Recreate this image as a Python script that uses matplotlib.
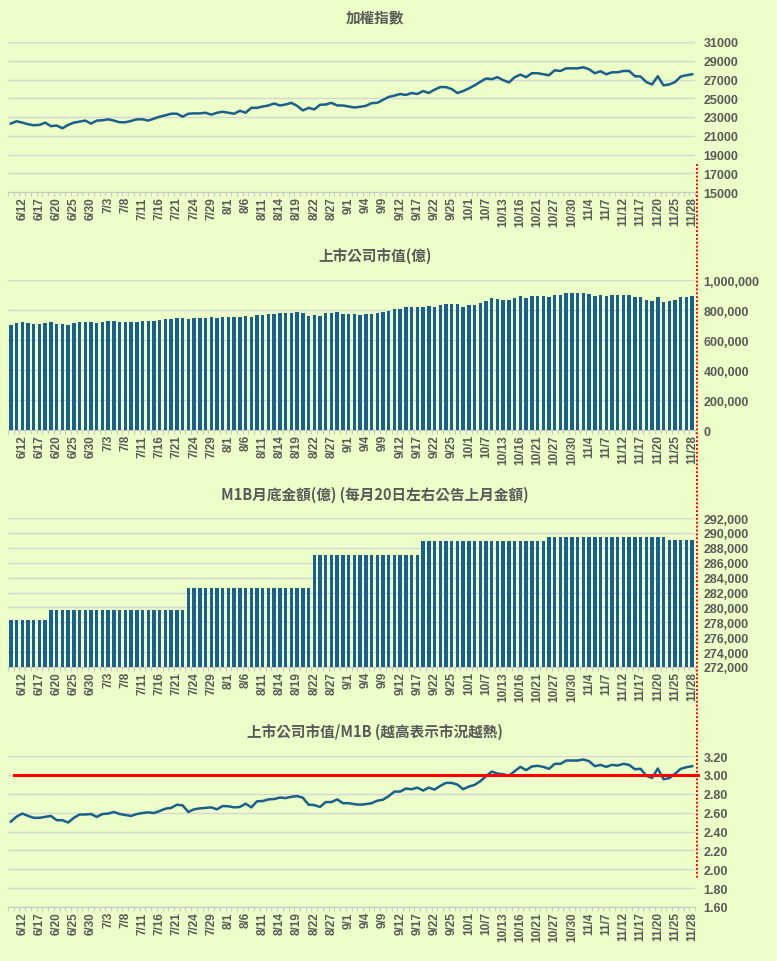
"""
Four stacked panels: TAIEX, listed market cap, M1B and market cap / M1B
"""
import matplotlib
matplotlib.use("Agg")
import matplotlib.pyplot as plt
from matplotlib.lines import Line2D
import pandas as pd

# trading days (TWSE 2025, holidays removed)
holidays = ["2025-09-29", "2025-10-06", "2025-10-10", "2025-10-24"]
dates = pd.bdate_range("2025-06-10", "2025-11-28", freq="C", holidays=holidays)
date_labels = [f"{d.month}/{d.day}" for d in dates]

taiex = [
    22300, 22545, 22400, 22230, 22120, 22155, 22400, 22020, 22090, 21800,
    22155, 22400, 22510, 22615, 22300, 22615, 22650, 22750, 22615, 22440,
    22440, 22580, 22750, 22750, 22615, 22825, 23035, 23175, 23350, 23350,
    23035, 23350, 23385, 23385, 23455, 23245, 23455, 23560, 23455, 23350,
    23665, 23455, 23980, 23980, 24120, 24230, 24440, 24230, 24335, 24510,
    24190, 23700, 23980, 23810, 24300, 24335, 24510, 24230, 24230, 24120,
    24017, 24087, 24190, 24475, 24510, 24825, 25140, 25280, 25455, 25350,
    25560, 25455, 25770, 25560, 25910, 26190, 26190, 25980, 25560, 25770,
    26050, 26370, 26755, 27105, 27035, 27245, 26930, 26685, 27245, 27525,
    27245, 27670, 27670, 27560, 27455, 27980, 27910, 28190, 28190, 28190,
    28300, 28090, 27670, 27880, 27560, 27770, 27770, 27910, 27910, 27350,
    27315, 26720, 26475, 27350, 26370, 26475, 26720, 27315, 27455, 27560,
]

market_cap = [
    697000, 712000, 721000, 714000, 708000, 708000, 711000, 717000, 705000, 705000,
    698000, 712000, 721000, 721000, 723000, 714000, 723000, 724000, 729000, 723000,
    720000, 717000, 723000, 726000, 728000, 726000, 732000, 739000, 741000, 750000,
    748000, 737000, 745000, 747000, 749000, 751000, 745000, 755000, 754000, 751000,
    752000, 762000, 751000, 769000, 770000, 774000, 775000, 780000, 778000, 782000,
    784000, 779000, 758000, 769000, 763000, 778000, 778000, 786000, 775000, 775000,
    772000, 770000, 772000, 775000, 782000, 786000, 796000, 810000, 810000, 819000,
    817000, 822000, 819000, 828000, 822000, 833000, 842000, 842000, 837000, 823000,
    831000, 836000, 847000, 863000, 877000, 871000, 869000, 864000, 878000, 891000,
    881000, 892000, 894000, 891000, 887000, 902000, 902000, 912000, 912000, 912000,
    915000, 910000, 895000, 899000, 893000, 899000, 897000, 902000, 899000, 886000,
    887000, 865000, 859000, 888000, 855000, 857000, 870000, 885000, 890000, 894000,
]

# M1B month-end balance, updated when the new month is published
m1b = ([278300] * 7 + [279600] * 24 + [282600] * 22 + [287000] * 19
       + [288900] * 22 + [289400] * 21 + [289000] * 5)

ratio = [
    2.505, 2.558, 2.590, 2.565, 2.545, 2.545, 2.555, 2.565, 2.520, 2.520,
    2.495, 2.545, 2.580, 2.580, 2.585, 2.555, 2.585, 2.590, 2.607, 2.585,
    2.575, 2.565, 2.585, 2.596, 2.603, 2.596, 2.617, 2.642, 2.650, 2.684,
    2.677, 2.607, 2.635, 2.645, 2.650, 2.656, 2.635, 2.670, 2.667, 2.656,
    2.660, 2.695, 2.656, 2.720, 2.723, 2.740, 2.744, 2.760, 2.754, 2.768,
    2.775, 2.758, 2.684, 2.680, 2.660, 2.712, 2.712, 2.740, 2.700, 2.700,
    2.690, 2.684, 2.690, 2.700, 2.726, 2.737, 2.775, 2.823, 2.823, 2.855,
    2.848, 2.865, 2.834, 2.865, 2.844, 2.883, 2.915, 2.915, 2.897, 2.848,
    2.876, 2.894, 2.933, 2.986, 3.035, 3.014, 3.007, 2.990, 3.039, 3.085,
    3.050, 3.089, 3.096, 3.085, 3.064, 3.117, 3.117, 3.152, 3.152, 3.152,
    3.163, 3.145, 3.092, 3.106, 3.085, 3.106, 3.099, 3.117, 3.106, 3.060,
    3.064, 2.990, 2.968, 3.067, 2.954, 2.965, 3.011, 3.064, 3.081, 3.092,
]
hot_level = 3.00

titles = ["加權指數", "上市公司市值(億)",
          "M1B月底金額(億) (每月20日左右公告上月金額)",
          "上市公司市值/M1B (越高表示市況越熱)"]

BG = "#ECFFC8"
BLUE = "#1B5F8C"
GREY_TXT = "#595959"
GRID = "#D6D6D6"
CJK = ["Noto Sans CJK TC", "DejaVu Sans"]

W, H = 777, 962
fig = plt.figure(figsize=(W / 100, H / 100), dpi=100, facecolor=BG)

# panel boxes in pixels: (top, bottom)
boxes = [(43, 193), (281, 431), (519, 668), (757, 908)]
title_y = [17, 256, 495, 732]
left_px, right_px = 8, 695

x = list(range(len(dates)))


def style_axis(ax, ymin, ymax, step, fmt):
    ax.set_facecolor(BG)
    ax.set_xlim(-0.5, len(x) - 0.5)
    ax.set_ylim(ymin, ymax)
    ticks = []
    v = ymin
    while v <= ymax + step * 0.01:
        ticks.append(v)
        v += step
    ax.set_yticks(ticks)
    ax.set_yticklabels([fmt(t) for t in ticks])
    ax.yaxis.tick_right()
    ax.tick_params(axis="y", length=0, pad=6, labelsize=9, labelcolor=GREY_TXT)
    for lab in ax.get_yticklabels():
        lab.set_fontweight("bold")
        lab.set_family("Liberation Sans")
    ax.grid(axis="y", color=GRID, linewidth=1.0, zorder=0)
    ax.set_axisbelow(True)
    for s in ["top", "left", "right"]:
        ax.spines[s].set_visible(False)
    ax.spines["bottom"].set_color("#C8C8C8")
    ax.set_xticks(range(2, len(x), 3))
    ax.set_xticklabels(date_labels[2::3], rotation=90, fontsize=8.5,
                       fontweight="bold", color=GREY_TXT, family="Liberation Sans")
    ax.set_xticks([i - 0.5 for i in range(len(x) + 1)], minor=True)
    ax.tick_params(axis="x", which="major", length=0, pad=3)
    ax.tick_params(axis="x", which="minor", length=3, color="#C8C8C8", width=0.8)


axes = []
for top, bottom in boxes:
    ax = fig.add_axes([left_px / W, 1 - bottom / H,
                       (right_px - left_px) / W, (bottom - top) / H])
    axes.append(ax)

ax1, ax2, ax3, ax4 = axes

ax1.plot(x, taiex, color=BLUE, linewidth=1.8, zorder=3)
style_axis(ax1, 15000, 31000, 2000, lambda v: f"{int(v)}")

ax2.bar(x, market_cap, width=0.6, color=BLUE, zorder=3)
style_axis(ax2, 0, 1000000, 200000, lambda v: f"{int(v):,}")

ax3.bar(x, m1b, width=0.6, color=BLUE, zorder=3)
style_axis(ax3, 272000, 292000, 2000, lambda v: f"{int(v):,}")

ax4.plot(x, ratio, color=BLUE, linewidth=1.8, zorder=3)
style_axis(ax4, 1.6, 3.2, 0.2, lambda v: f"{v:.2f}")
ax4.axhline(hot_level, xmin=0.009, xmax=1.004, color="#FF0000",
            linewidth=2.2, zorder=4, clip_on=False)

for ty, title in zip(title_y, titles):
    fig.text(375 / W, 1 - ty / H, title, ha="center", va="center",
             fontsize=10.5, fontweight="bold", color=GREY_TXT, family=CJK)

# page-break marker on the right
fig.add_artist(Line2D([697 / W, 697 / W], [1 - 165 / H, 1 - 879 / H],
                      transform=fig.transFigure, color="#FF0000",
                      linestyle=(0, (1, 1)), linewidth=1.4))

fig.savefig("out.png", dpi=100, facecolor=BG)
